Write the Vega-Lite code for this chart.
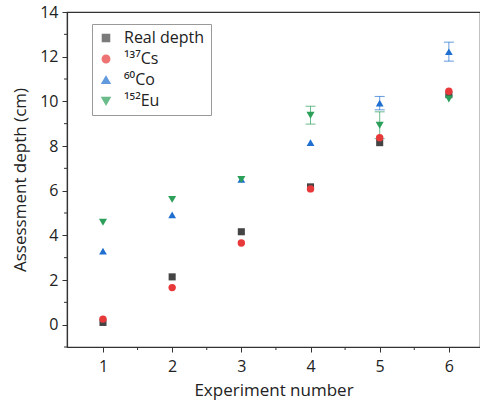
{
  "$schema": "https://vega.github.io/schema/vega-lite/v6.json",
  "width": 413,
  "height": 335,
  "autosize": "none",
  "padding": {"left": 67, "top": 12, "right": 0, "bottom": 56},
  "background": "white",
  "config": {
    "font": "Open Sans",
    "view": {"stroke": "#333", "strokeWidth": 1.2},
    "axis": {"grid": false, "domainColor": "#333", "tickColor": "#333", "labelColor": "#222", "titleColor": "#222", "labelFont": "Open Sans", "titleFont": "Open Sans", "labelFontSize": 16, "titleFontSize": 17, "titleFontWeight": "normal"}
  },
  "datasets": {
    "pts": [
      {"x": 1, "y": 0.1, "s": "Real depth"},
      {"x": 2, "y": 2.14, "s": "Real depth"},
      {"x": 3, "y": 4.16, "s": "Real depth"},
      {"x": 4, "y": 6.17, "s": "Real depth"},
      {"x": 5, "y": 8.15, "s": "Real depth"},
      {"x": 6, "y": 10.3, "s": "Real depth"},
      {"x": 1, "y": 0.25, "s": "¹³⁷Cs"},
      {"x": 2, "y": 1.66, "s": "¹³⁷Cs"},
      {"x": 3, "y": 3.66, "s": "¹³⁷Cs"},
      {"x": 4, "y": 6.08, "s": "¹³⁷Cs"},
      {"x": 5, "y": 8.37, "s": "¹³⁷Cs"},
      {"x": 6, "y": 10.45, "s": "¹³⁷Cs"},
      {"x": 1, "y": 3.29, "s": "⁶⁰Co"},
      {"x": 2, "y": 4.92, "s": "⁶⁰Co"},
      {"x": 3, "y": 6.5, "s": "⁶⁰Co"},
      {"x": 4, "y": 8.15, "s": "⁶⁰Co"},
      {"x": 5, "y": 9.92, "s": "⁶⁰Co"},
      {"x": 6, "y": 12.22, "s": "⁶⁰Co"},
      {"x": 1, "y": 4.59, "s": "¹⁵²Eu"},
      {"x": 2, "y": 5.61, "s": "¹⁵²Eu"},
      {"x": 3, "y": 6.5, "s": "¹⁵²Eu"},
      {"x": 4, "y": 9.38, "s": "¹⁵²Eu"},
      {"x": 5, "y": 8.93, "s": "¹⁵²Eu"},
      {"x": 6, "y": 10.1, "s": "¹⁵²Eu"}
    ],
    "errs": [
      {"x": 4, "lo": 8.98, "hi": 9.78, "s": "¹⁵²Eu"},
      {"x": 5, "lo": 8.33, "hi": 9.53, "s": "¹⁵²Eu"},
      {"x": 5, "lo": 9.62, "hi": 10.22, "s": "⁶⁰Co"},
      {"x": 6, "lo": 11.8, "hi": 12.65, "s": "⁶⁰Co"}
    ],
    "ytk": [{"v": -1}, {"v": 1}, {"v": 3}, {"v": 5}, {"v": 7}, {"v": 9}, {"v": 11}, {"v": 13}]
  },
  "layer": [
    {
      "data": {"name": "errs"},
      "mark": {"type": "rule", "strokeWidth": 1, "opacity": 0.7},
      "encoding": {
        "x": {"field": "x", "type": "quantitative", "scale": {"domain": [0.48, 6.45], "nice": false, "zero": false}},
        "y": {"field": "lo", "type": "quantitative", "scale": {"domain": [-1, 14], "nice": false, "zero": false}},
        "y2": {"field": "hi"},
        "color": {"field": "s", "type": "nominal"}
      }
    },
    {
      "data": {"name": "errs"},
      "mark": {"type": "tick", "orient": "horizontal", "size": 10, "thickness": 1, "opacity": 0.7},
      "encoding": {
        "x": {"field": "x", "type": "quantitative", "scale": {"domain": [0.48, 6.45], "nice": false, "zero": false}},
        "y": {"field": "lo", "type": "quantitative", "scale": {"domain": [-1, 14], "nice": false, "zero": false}},
        "color": {"field": "s", "type": "nominal"}
      }
    },
    {
      "data": {"name": "errs"},
      "mark": {"type": "tick", "orient": "horizontal", "size": 10, "thickness": 1, "opacity": 0.7},
      "encoding": {
        "x": {"field": "x", "type": "quantitative", "scale": {"domain": [0.48, 6.45], "nice": false, "zero": false}},
        "y": {"field": "hi", "type": "quantitative", "scale": {"domain": [-1, 14], "nice": false, "zero": false}},
        "color": {"field": "s", "type": "nominal"}
      }
    },
    {
      "data": {"name": "ytk"},
      "mark": {"type": "rule", "color": "#333", "strokeWidth": 1},
      "encoding": {
        "x": {"value": -3},
        "x2": {"value": 0},
        "y": {"field": "v", "type": "quantitative", "scale": {"domain": [-1, 14], "nice": false, "zero": false}}
      }
    },
    {
      "data": {"values": [{"v": 1.5}, {"v": 2.5}, {"v": 3.5}, {"v": 4.5}, {"v": 5.5}]},
      "mark": {"type": "rule", "color": "#333", "strokeWidth": 1},
      "encoding": {
        "x": {"field": "v", "type": "quantitative", "scale": {"domain": [0.48, 6.45], "nice": false, "zero": false}},
        "y": {"value": 335},
        "y2": {"value": 338}
      }
    },
    {
      "data": {"name": "pts"},
      "mark": {"type": "point", "filled": true, "opacity": 1, "strokeWidth": 0},
      "encoding": {
        "x": {"field": "x", "type": "quantitative", "title": "Experiment number",
          "scale": {"domain": [0.48, 6.45], "nice": false, "zero": false},
          "axis": {"values": [1, 2, 3, 4, 5, 6], "format": "d", "tickSize": 5, "labelPadding": 6, "titlePadding": 8, "domainWidth": 1.2}},
        "y": {"field": "y", "type": "quantitative", "title": "Assessment depth (cm)",
          "scale": {"domain": [-1, 14], "nice": false, "zero": false},
          "axis": {"values": [0, 2, 4, 6, 8, 10, 12, 14], "format": "d", "tickSize": 5, "labelPadding": 4, "titlePadding": 10, "domainWidth": 1.2}},
        "color": {"field": "s", "type": "nominal", "title": null,
          "scale": {"domain": ["Real depth", "¹³⁷Cs", "⁶⁰Co", "¹⁵²Eu"], "range": ["#444444", "#e8393a", "#1f6fd0", "#2ca05a"]},
          "legend": {"orient": "none", "legendX": 25, "legendY": 12, "strokeColor": "#999", "padding": 6, "labelFontSize": 16, "labelFont": "Open Sans", "labelColor": "#222", "rowPadding": 5, "labelOffset": 10, "symbolOpacity": 1}},
        "shape": {"field": "s", "type": "nominal", "title": null,
          "scale": {"domain": ["Real depth", "¹³⁷Cs", "⁶⁰Co", "¹⁵²Eu"], "range": ["square", "circle", "triangle-up", "triangle-down"]},
          "legend": {"orient": "none", "legendX": 25, "legendY": 12, "strokeColor": "#999", "padding": 6, "labelFontSize": 16, "labelFont": "Open Sans", "labelColor": "#222", "rowPadding": 5, "labelOffset": 10, "symbolOpacity": 1}},
        "size": {"field": "s", "type": "nominal", "legend": null,
          "scale": {"domain": ["Real depth", "¹³⁷Cs", "⁶⁰Co", "¹⁵²Eu"], "range": [50, 65, 85, 85]}}
      }
    }
  ]
}
